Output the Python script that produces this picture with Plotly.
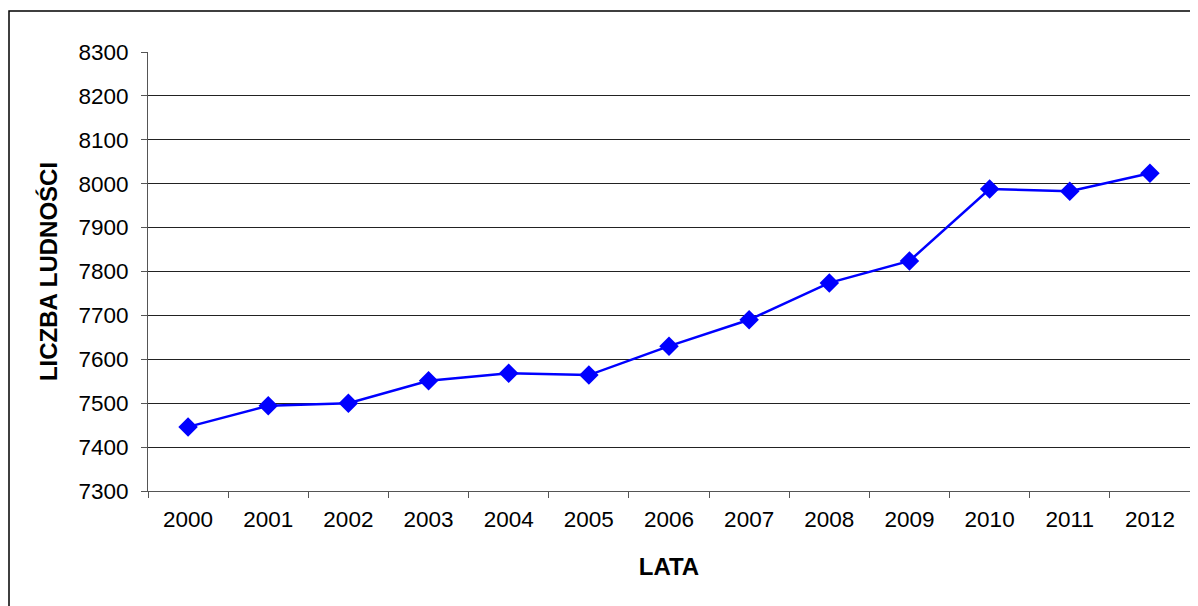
import plotly.graph_objects as go

years = ["2000", "2001", "2002", "2003", "2004", "2005", "2006",
         "2007", "2008", "2009", "2010", "2011", "2012"]
population = [7446, 7494, 7500, 7551, 7568, 7564, 7630,
              7690, 7774, 7824, 7988, 7983, 8024]
y_ticks = [7300, 7400, 7500, 7600, 7700, 7800, 7900, 8000, 8100, 8200, 8300]

FONT = "Liberation Sans, Arial, sans-serif"

fig = go.Figure()
fig.add_trace(go.Scatter(
    x=years, y=population, mode="lines+markers",
    line=dict(color="#0000FF", width=2.5),
    marker=dict(symbol="diamond", size=15, color="#0000FF"),
    showlegend=False,
))

# page body has an 8px margin, so size the figure to sit at the same spot
fig.update_layout(
    width=1190, height=598,
    margin=dict(l=140, r=8, t=44, b=115),
    paper_bgcolor="white", plot_bgcolor="white",
    font=dict(family=FONT, color="black", size=22),
    xaxis=dict(
        type="category", tickson="boundaries", ticks="outside", ticklen=6,
        tickcolor="#555555", showline=True, linecolor="#555555", linewidth=1,
        showgrid=False, tickfont=dict(size=22.5), ticklabelstandoff=8,
        range=[-0.5, 12.5],
        title=dict(text="<b>LATA</b>", font=dict(size=24), standoff=27),
    ),
    yaxis=dict(
        range=[7300, 8300], tickvals=y_ticks, ticks="outside", ticklen=6,
        tickcolor="#555555", showline=True, linecolor="#555555", linewidth=1,
        showgrid=True, gridcolor="#222222", gridwidth=1, zeroline=False,
        tickfont=dict(size=22.5), ticklabelstandoff=8,
        title=dict(text="<b>LICZBA LUDNOŚCI</b>", font=dict(size=24), standoff=14),
    ),
)

# outer chart frame (extends beyond the bottom/right edges like the reference)
fig.add_shape(type="rect", xref="paper", yref="paper",
              x0=-139/1042, x1=1.1, y0=-0.5, y1=1 + 41/439,
              line=dict(color="black", width=1.5), layer="below")

fig.write_html("out.html")
